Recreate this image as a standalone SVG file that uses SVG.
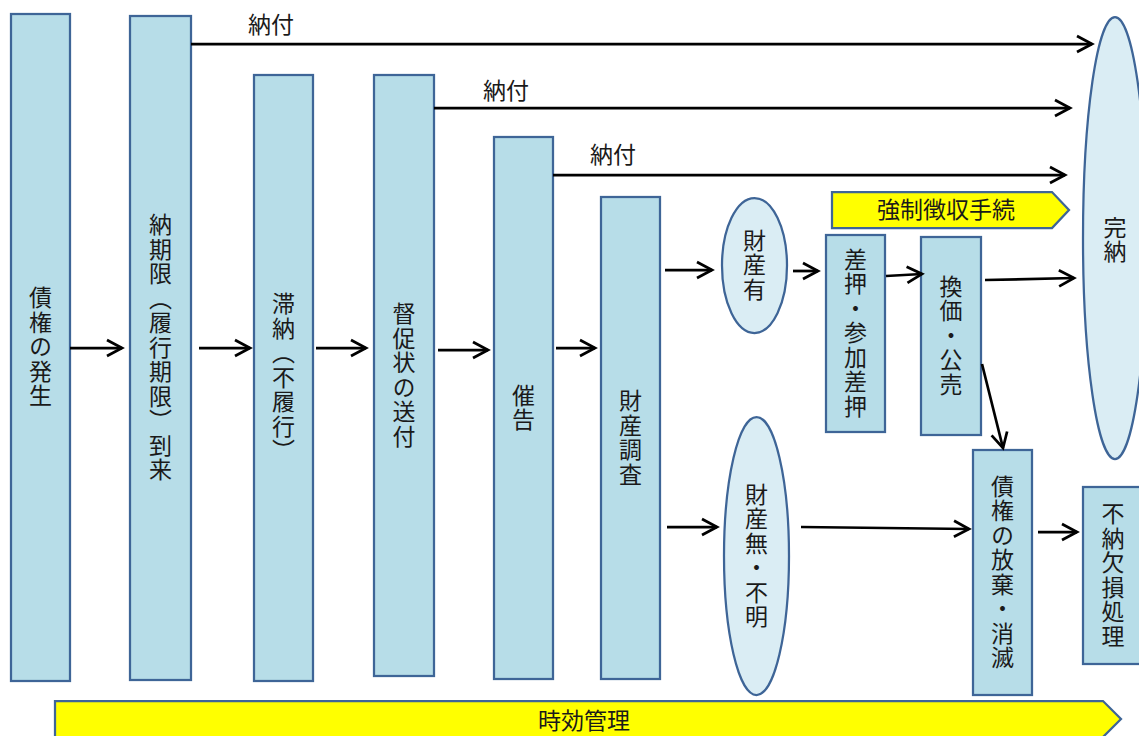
<svg xmlns="http://www.w3.org/2000/svg" width="1139" height="736" viewBox="0 0 1139 736">
<style>
.box{fill:#b7dde8;stroke:#3e6597;stroke-width:2.25}
.ell{fill:#daedf4;stroke:#3e6597;stroke-width:2.25}
.yel{fill:#ffff00;stroke:#3e6597;stroke-width:2.25}
.t{font-family:"Noto Sans CJK JP","Noto Sans CJK SC",sans-serif;font-size:23px;fill:#1a1a1a}
.v{writing-mode:vertical-rl;text-anchor:middle;letter-spacing:1.5px}
.h{text-anchor:middle}
.c{fill:none;stroke:#000;stroke-width:2.75}
</style>
<defs>
<marker id="arr" markerUnits="userSpaceOnUse" markerWidth="20" markerHeight="20" viewBox="0 0 20 20" refX="17" refY="10" orient="auto">
<path d="M2,2 L17,10 L2,18" fill="none" stroke="#000" stroke-width="2.75"/>
</marker>
</defs>
<rect width="1139" height="736" fill="#fff"/>
<g id="n-jikou"><path class="yel" d="M55,701 H1103 L1121,719 L1103,737 H55 Z"/><text class="t h" x="584" y="729">時効管理</text></g>
<g id="n-kyousei"><path class="yel" d="M832,192 H1052 L1069,210 L1052,228 H832 Z"/><text class="t h" x="946" y="218">強制徴収手続</text></g>
<g id="n-hassei"><rect class="box" x="11" y="14" width="59" height="667"/><text class="t v" x="40.5" y="347.5">債権の発生</text></g>
<g id="n-noukigen"><rect class="box" x="130" y="16" width="61" height="664"/><text class="t v" x="160.5" y="348">納期限（履行期限）到来</text></g>
<g id="n-tainou"><rect class="box" x="254" y="75" width="59" height="606"/><text class="t v" x="283.5" y="378">滞納（不履行）</text></g>
<g id="n-tokusoku"><rect class="box" x="374" y="75" width="60" height="601"/><text class="t v" x="404" y="375.5">督促状の送付</text></g>
<g id="n-saikoku"><rect class="box" x="494" y="137" width="59" height="542"/><text class="t v" x="523.5" y="408">催告</text></g>
<g id="n-chousa"><rect class="box" x="601" y="197" width="59" height="482"/><text class="t v" x="630.5" y="438">財産調査</text></g>
<g id="n-zaisanari"><ellipse class="ell" cx="754.5" cy="265.5" rx="32.5" ry="67.5"/><text class="t v" x="754.5" y="265.5">財産有</text></g>
<g id="n-zaisannashi"><ellipse class="ell" cx="756.5" cy="556" rx="32.5" ry="139"/><text class="t v" x="756.5" y="556">財産無・不明</text></g>
<g id="n-sashiosae"><rect class="box" x="826" y="235" width="59" height="197"/><text class="t v" x="855.5" y="333.5">差押・参加差押</text></g>
<g id="n-kanka"><rect class="box" x="921" y="237" width="60" height="198"/><text class="t v" x="951" y="336">換価・公売</text></g>
<g id="n-kannou"><ellipse class="ell" cx="1115" cy="238" rx="32" ry="221"/><text class="t v" x="1115" y="240">完納</text></g>
<g id="n-houki"><rect class="box" x="973" y="450" width="59" height="245"/><text class="t v" x="1002.5" y="572.5">債権の放棄・消滅</text></g>
<g id="n-fukesson"><rect class="box" x="1083" y="487" width="60" height="177"/><text class="t v" x="1113" y="575.5">不納欠損処理</text></g>
<g id="connectors">
<path class="c" marker-end="url(#arr)" d="M70,348 H122"/>
<path class="c" marker-end="url(#arr)" d="M199,348 H250"/>
<path class="c" marker-end="url(#arr)" d="M316,348 H366"/>
<path class="c" marker-end="url(#arr)" d="M438,350 H488"/>
<path class="c" marker-end="url(#arr)" d="M556,348 H595"/>
<path class="c" marker-end="url(#arr)" d="M665,270 H712"/>
<path class="c" marker-end="url(#arr)" d="M793,271 H818"/>
<path class="c" marker-end="url(#arr)" d="M886,276 L922,274"/>
<path class="c" marker-end="url(#arr)" d="M985,280 L1074,278"/>
<path class="c" marker-end="url(#arr)" d="M982,364 L1003,448"/>
<path class="c" marker-end="url(#arr)" d="M667,527 H717"/>
<path class="c" marker-end="url(#arr)" d="M801,527 L969,529"/>
<path class="c" marker-end="url(#arr)" d="M1038,532 H1077"/>
<path class="c" marker-end="url(#arr)" d="M191,44 H1092"/>
<path class="c" marker-end="url(#arr)" d="M434,108 H1070"/>
<path class="c" marker-end="url(#arr)" d="M553,175 H1065"/>
<text class="t" x="248" y="33">納付</text>
<text class="t" x="483" y="99">納付</text>
<text class="t" x="590" y="163">納付</text>
</g>
</svg>
